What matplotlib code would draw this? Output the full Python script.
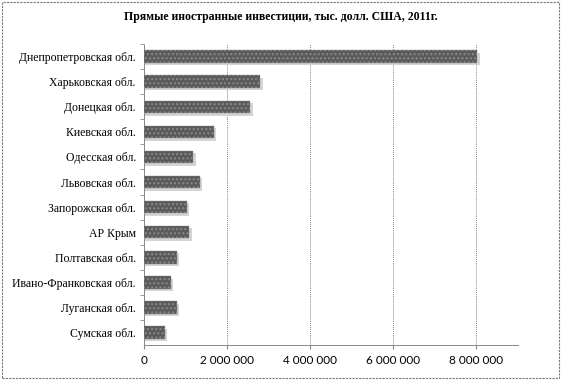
import matplotlib
matplotlib.use("Agg")
import matplotlib.pyplot as plt
from matplotlib.patches import Rectangle
from matplotlib.ticker import FuncFormatter

# regions, top to bottom as in the picture
regions = ["Днепропетровская обл.", "Харьковская обл.", "Донецкая обл.",
           "Киевская обл.", "Одесская обл.", "Львовская обл.",
           "Запорожская обл.", "АР Крым", "Полтавская обл.",
           "Ивано-Франковская обл.", "Луганская обл.", "Сумская обл."]
fdi = [8020000, 2800000, 2560000, 1680000, 1180000, 1340000,
       1020000, 1090000, 790000, 640000, 780000, 500000]
x_ticks = [0, 2000000, 4000000, 6000000, 8000000]

fig = plt.figure(figsize=(5.61, 3.80), dpi=100)
ax = fig.add_axes([0.257, 0.092, 0.666, 0.792])

pos = list(range(len(regions)))[::-1]

# shadow first, then bars
ax.barh([p - 0.1 for p in pos], [v + 60000 for v in fdi], height=0.5,
        color="#d4d4d4", zorder=2)
ax.barh(pos, fdi, height=0.5, color="#5a5a5a", edgecolor="#8a8a8a",
        hatch="....", linewidth=0.3, zorder=3)

ax.set_xlim(0, 9000000)
ax.set_ylim(-0.5, len(regions) - 0.5)
ax.set_yticks(pos)
ax.set_yticklabels(regions, family="Liberation Serif", fontsize=8.5)
ax.set_yticks([p + 0.5 for p in range(len(regions))], minor=True)
ax.tick_params(axis="y", which="major", length=0, pad=6)
ax.tick_params(axis="y", which="minor", length=3, color="#888888")

ax.set_xticks(x_ticks)
ax.xaxis.set_major_formatter(FuncFormatter(lambda v, p: f"{int(v):,}".replace(",", " ")))
for lab in ax.get_xticklabels():
    lab.set_family("Lato")
    lab.set_fontsize(8.5)
ax.tick_params(axis="x", length=3, color="#888888", pad=4)

ax.grid(axis="x", color="#888888", linestyle=(0, (1, 1)), linewidth=0.7, zorder=0)
for s in ["top", "right"]:
    ax.spines[s].set_visible(False)
for s in ["left", "bottom"]:
    ax.spines[s].set_color("#888888")
    ax.spines[s].set_linestyle((0, (1, 1)))
    ax.spines[s].set_linewidth(0.7)

fig.text(0.5, 0.955, "Прямые иностранные инвестиции, тыс. долл. США, 2011г.",
         ha="center", va="center", family="Liberation Serif",
         fontweight="bold", fontsize=8.5)

# dashed frame around the chart
fig.patches.append(Rectangle((0.003, 0.005), 0.994, 0.99, transform=fig.transFigure,
                             fill=False, edgecolor="#777777", linewidth=0.8,
                             linestyle=(0, (2, 1))))

fig.savefig("out.png", dpi=100)
